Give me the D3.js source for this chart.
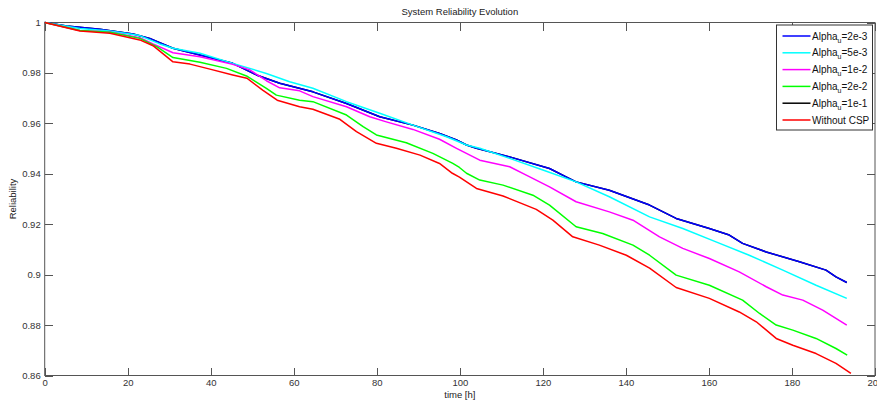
<!DOCTYPE html>
<html><head><meta charset="utf-8">
<script src="https://cdn.jsdelivr.net/npm/d3@7"></script>
<style>
body{margin:0;background:#fff;}
svg{display:block;font-family:"Liberation Sans",Arial,sans-serif;}
</style></head>
<body><svg id="c" width="877" height="403"></svg>
<script>
const title = "System Reliability Evolution";
const xLabel = "time [h]";
const yLabel = "Reliability";
const xTicks = [0,20,40,60,80,100,120,140,160,180,200];
const yTicks = [0.86,0.88,0.9,0.92,0.94,0.96,0.98,1];
const yTickLabels = ["0.86","0.88","0.9","0.92","0.94","0.96","0.98","1"];

const seriesNames = ["2e-3","5e-3","1e-2","2e-2","1e-1","Without CSP"];
const seriesColors = ["#0000ff","#00ffff","#ff00ff","#00ff00","#000000","#ff0000"];

const tBlue = [0,5.3,13.3,21.3,25.3,27.7,30.9,45.3,51.0,56.6,64.6,72.7,80.7,88.7,95.1,99.2,101.6,104.0,112.0,121.6,125.6,128.0,136.0,145.7,152.1,160.1,164.9,168.1,173.8,181.8,188.2,190.6,193.2];
const rBlue = [1.0,0.9986,0.9973,0.9954,0.9937,0.9920,0.9898,0.9838,0.9792,0.9759,0.9725,0.9679,0.9626,0.9593,0.9560,0.9534,0.9514,0.9501,0.9467,0.9421,0.9388,0.9368,0.9335,0.9276,0.9223,0.9183,0.9157,0.9124,0.9090,0.9051,0.9018,0.8991,0.8969];

const tCyan = [0,8.5,15.7,22.9,27.7,30.9,37.4,45.3,53.4,59.0,64.6,72.7,80.7,88.7,96.8,101.6,104.8,112.0,120.0,128.0,136.0,145.7,153.7,161.7,169.7,177.8,185.8,193.2];
const rCyan = [1.0,0.9976,0.9966,0.9948,0.9915,0.9898,0.9878,0.9838,0.9798,0.9765,0.9739,0.9686,0.9640,0.9593,0.9547,0.9514,0.9501,0.9461,0.9415,0.9368,0.9309,0.9229,0.9183,0.9130,0.9077,0.9018,0.8958,0.8906];

const tMag = [0,8.5,15.7,22.9,26.1,30.9,37.4,45.3,49.4,53.4,56.6,61.4,64.6,72.7,78.3,82.3,88.7,95.1,99.2,104.8,112.0,116.0,121.6,128.0,136.0,141.7,148.1,153.7,160.1,167.3,173.8,177.8,182.6,187.4,193.2];
const rMag = [1.0,0.9968,0.9962,0.9940,0.9915,0.9880,0.9864,0.9834,0.9812,0.9769,0.9741,0.9729,0.9706,0.9666,0.9626,0.9606,0.9576,0.9537,0.9501,0.9454,0.9428,0.9395,0.9348,0.9289,0.9249,0.9216,0.9150,0.9104,0.9064,0.9011,0.8952,0.8919,0.8899,0.8859,0.8800];

const tGreen = [0,8.5,15.7,22.9,27.0,30.9,37.4,43.8,48.6,53.4,55.8,61.4,64.6,72.7,76.7,79.9,87.1,93.5,98.3,99.9,101.6,104.8,110.4,117.6,121.6,128.0,134.4,141.7,145.7,152.1,160.1,168.1,172.2,176.2,180.2,185.8,190.6,193.3];
const rGreen = [1.0,0.9968,0.9961,0.9937,0.9904,0.9861,0.9842,0.9818,0.9788,0.9739,0.9712,0.9692,0.9686,0.9633,0.9587,0.9554,0.9523,0.9481,0.9441,0.9425,0.9402,0.9375,0.9355,0.9315,0.9276,0.9190,0.9163,0.9117,0.9077,0.8998,0.8958,0.8899,0.8846,0.8800,0.8780,0.8747,0.8707,0.8681];

const tBlack = tBlue.slice();
const rBlack = rBlue.slice();

const tRed = [0,8.5,15.7,22.9,26.1,30.9,35.0,39.8,45.3,48.7,52.5,56.0,61.4,64.6,71.1,75.1,79.9,84.7,90.4,95.1,98.2,99.9,104.0,110.4,118.4,122.4,127.2,133.6,140.1,145.7,152.1,160.1,167.3,171.4,176.2,180.2,185.8,190.6,194.2];
const rRed = [1.0,0.9966,0.9957,0.9931,0.9908,0.9844,0.9835,0.9815,0.9792,0.9779,0.9732,0.9692,0.9666,0.9656,0.9616,0.9567,0.9521,0.9501,0.9474,0.9441,0.9402,0.9387,0.9342,0.9312,0.9259,0.9216,0.9150,0.9117,0.9077,0.9026,0.8949,0.8906,0.8852,0.8813,0.8747,0.8720,0.8687,0.8648,0.8608];

const seriesT = [tBlue,tCyan,tMag,tGreen,tBlack,tRed];
const seriesR = [rBlue,rCyan,rMag,rGreen,rBlack,rRed];

const L=44.7, R=875, T=22.5, B=375.5;
const svg = d3.select("#c");
const x = d3.scaleLinear().domain([0,200]).range([L,R]);
const y = d3.scaleLinear().domain([0.86,1]).range([B,T]);

const axisColor="#555", textColor="#333";

// frame
svg.append("rect").attr("x",L).attr("y",T).attr("width",R-L).attr("height",B-T)
  .attr("fill","#fff").attr("stroke",axisColor).attr("stroke-width",1);

function styleAxis(g){
  g.select(".domain").remove();
  g.selectAll("line").attr("stroke",axisColor);
  g.selectAll("text").attr("fill",textColor).style("font-size","9.5px");
}
svg.append("g").attr("transform",`translate(0,${B})`)
  .call(d3.axisBottom(x).tickValues(xTicks).tickSize(-8).tickPadding(4).tickFormat(d3.format("d")))
  .call(styleAxis);
svg.append("g").attr("transform",`translate(0,${T})`)
  .call(d3.axisTop(x).tickValues(xTicks).tickSize(-8).tickFormat(""))
  .call(styleAxis);
svg.append("g").attr("transform",`translate(${L},0)`)
  .call(d3.axisLeft(y).tickValues(yTicks).tickSize(-8).tickPadding(4).tickFormat((d,i)=>yTickLabels[i]))
  .call(styleAxis);
svg.append("g").attr("transform",`translate(${R},0)`)
  .call(d3.axisRight(y).tickValues(yTicks).tickSize(-8).tickFormat(""))
  .call(styleAxis);
// remove tick marks at the corners overlapping frame
svg.selectAll("g.tick line").attr("shape-rendering","crispEdges");

const line = d3.line().x(d=>x(d[0])).y(d=>y(d[1]));
const order = [4,0,1,2,3,5];
order.forEach(i=>{
  const pts = seriesT[i].map((t,k)=>[t,seriesR[i][k]]);
  svg.append("path").attr("d",line(pts)).attr("fill","none")
    .attr("stroke",seriesColors[i]).attr("stroke-width",1.5).attr("stroke-linejoin","round");
});

// title & labels
svg.append("text").attr("x",(L+R)/2).attr("y",15).attr("text-anchor","middle")
  .attr("fill","#222").style("font-size","9.5px").text(title);
svg.append("text").attr("x",(L+R)/2).attr("y",398).attr("text-anchor","middle")
  .attr("fill","#222").style("font-size","9.5px").text(xLabel);
svg.append("text").attr("transform",`translate(16,${(T+B)/2}) rotate(-90)`).attr("text-anchor","middle")
  .attr("fill","#222").style("font-size","9.5px").text(yLabel);

// legend
const lg = svg.append("g");
lg.append("rect").attr("x",776.5).attr("y",25).attr("width",96).attr("height",105)
  .attr("fill","#fff").attr("stroke","#333").attr("stroke-width",1);
seriesNames.forEach((nm,i)=>{
  const yy = 36 + i*16.8;
  lg.append("line").attr("x1",782.5).attr("x2",810.5).attr("y1",yy).attr("y2",yy)
    .attr("stroke",seriesColors[i]).attr("stroke-width",1.5);
  const tx = lg.append("text").attr("x",812).attr("y",yy+3.5).attr("fill","#111").style("font-size","10px");
  if(i<5){
    tx.append("tspan").text("Alpha");
    tx.append("tspan").attr("dy",3).style("font-size","7px").text("u");
    tx.append("tspan").attr("dy",-3).text("="+nm);
  } else tx.text(nm);
});
</script></body></html>
